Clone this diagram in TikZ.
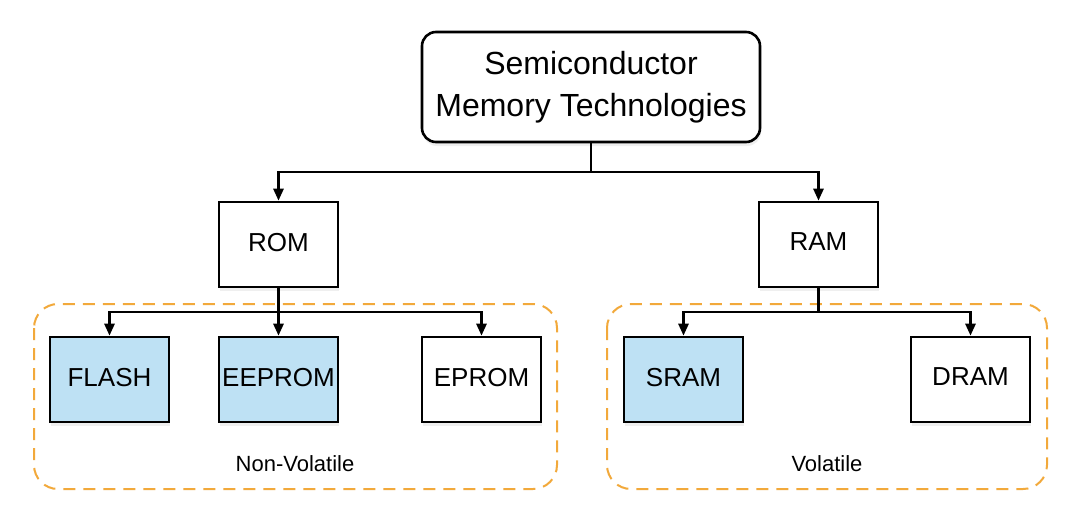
\documentclass[tikz,border=0pt]{standalone}
\usepackage{fontspec}
\setmainfont{Liberation Sans}
\usetikzlibrary{arrows.meta,shadows}
\definecolor{boxblue}{HTML}{BEE1F4}
\definecolor{dashorange}{HTML}{F2A93B}
\tikzset{
  box/.style={draw=black, line width=2.6pt, minimum width=119pt, minimum height=85pt,
    inner sep=0pt, fill=white, font=\fontsize{26}{30}\selectfont,
    drop shadow={opacity=0.12, shadow xshift=1pt, shadow yshift=-4pt}},
  bluebox/.style={box, fill=boxblue},
  titlebox/.style={box, minimum width=338pt, minimum height=110pt, rounded corners=14pt,
    align=center, font=\fontsize{32}{42}\selectfont},
  link/.style={line width=2.6pt},
  conn/.style={line width=2.6pt, -{Triangle[length=12pt,width=10pt]}},
  groupbox/.style={draw=dashorange, line width=2pt, dash pattern=on 12pt off 8pt, rounded corners=24pt},
  grouplabel/.style={font=\fontsize{22}{26}\selectfont, inner sep=0pt}
}
\begin{document}
\begin{tikzpicture}[x=1pt,y=-1pt]
\useasboundingbox[fill=white] (0,0) rectangle (1080,523);
% groups
\draw[groupbox] (34,304) rectangle (557,489);
\draw[groupbox] (607,304) rectangle (1047,489);
\node[grouplabel] (nvl) at (295,464) {Non-Volatile};
\node[grouplabel] (vl) at (827,464) {Volatile};
% nodes
\node[titlebox] (top) at (591,87) {Semiconductor\\Memory Technologies};
\node[box] (rom) at (278.5,244.5) {\raisebox{5pt}{ROM}};
\node[box] (ram) at (818.5,244.5) {\raisebox{5pt}{RAM}};
\node[bluebox] (flash) at (109.5,379.5) {\raisebox{5pt}{FLASH}};
\node[bluebox] (eeprom) at (278.5,379.5) {\raisebox{5pt}{EEPROM}};
\node[box] (eprom) at (481.5,379.5) {\raisebox{5pt}{EPROM}};
\node[bluebox] (sram) at (683.5,379.5) {\raisebox{5pt}{SRAM}};
\node[box] (dram) at (970.5,379.5) {\raisebox{5pt}{DRAM}};
% junctions
\coordinate (j1) at (591,172);
\coordinate (j2) at (278.5,312);
\coordinate (j3) at (818.5,312);
% connectors
\draw[link] (top.south) -- (j1);
\draw[conn] (j1) -| (rom.north);
\draw[conn] (j1) -| (ram.north);
\draw[link] (rom.south) -- (j2);
\draw[conn] (j2) -| (flash.north);
\draw[conn] (j2) -- (eeprom.north);
\draw[conn] (j2) -| (eprom.north);
\draw[link] (ram.south) -- (j3);
\draw[conn] (j3) -| (sram.north);
\draw[conn] (j3) -| (dram.north);
\end{tikzpicture}
\end{document}
